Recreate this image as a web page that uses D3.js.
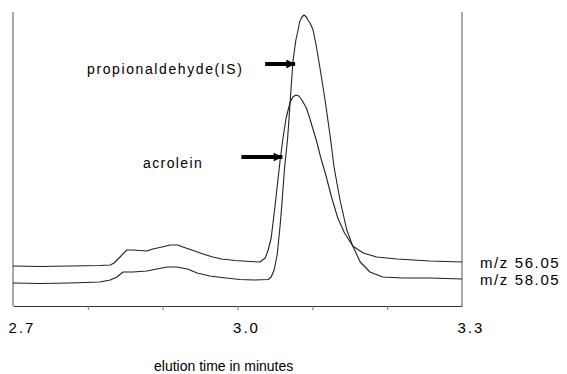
<!DOCTYPE html>
<html>
<head>
<meta charset="utf-8">
<script src="https://cdn.jsdelivr.net/npm/d3@7"></script>
<style>
  html, body { margin: 0; padding: 0; background: #fff; }
  svg { display: block; font-family: Arial, "Liberation Sans", sans-serif; }
</style>
</head>
<body>
<svg id="chart" width="567" height="374"></svg>
<script>
// elution time (min) and signal (arbitrary units)
const timeA = [2.700, 2.736, 2.776, 2.816, 2.830, 2.835, 2.843, 2.852, 2.860, 2.879, 2.887, 2.899, 2.910, 2.920, 2.927, 2.939, 2.954, 2.967, 2.979, 2.997, 3.017, 3.030, 3.037, 3.041, 3.045, 3.050, 3.054, 3.057, 3.061, 3.065, 3.070, 3.074, 3.078, 3.082, 3.086, 3.092, 3.096, 3.100, 3.106, 3.111, 3.118, 3.126, 3.134, 3.143, 3.154, 3.168, 3.186, 3.213, 3.257, 3.300];
const mz5605 = [40, 39.5, 40, 40.5, 41, 43, 49, 56, 56, 55, 57, 59, 61, 61, 59, 56, 52, 49, 47, 45.5, 44.5, 44, 48, 56, 68, 99, 126, 146, 169, 188, 203, 209, 211, 210, 206, 198, 189, 179, 164, 149, 131, 108, 88, 73, 60, 53, 49, 47, 45, 44];

const timeP = [2.700, 2.736, 2.776, 2.816, 2.830, 2.839, 2.847, 2.860, 2.879, 2.892, 2.906, 2.919, 2.933, 2.946, 2.963, 2.979, 3.003, 3.023, 3.041, 3.045, 3.049, 3.053, 3.057, 3.059, 3.063, 3.067, 3.071, 3.074, 3.078, 3.081, 3.083, 3.086, 3.089, 3.092, 3.094, 3.097, 3.101, 3.105, 3.110, 3.117, 3.124, 3.129, 3.137, 3.146, 3.154, 3.164, 3.177, 3.194, 3.221, 3.257, 3.300];
const mz5805 = [23, 22.5, 23, 24, 26, 29, 34, 34, 35, 37, 39, 39, 37, 33, 30, 28.5, 26.5, 26, 26.5, 29, 36, 51, 81, 99, 139, 168, 211, 244, 266, 276, 284, 289, 291, 289, 286, 283, 276, 261, 239, 206, 169, 139, 106, 76, 60, 44, 34, 29, 28, 28, 27];

const tickLabels = ["2.7", "3.0", "3.3"];
const minorTicks = [2.8, 2.9, 3.0, 3.1, 3.2];
const seriesNames = ["m/z 56.05", "m/z 58.05"];
// annotation: label, arrow tip (time, signal)
const notes = [
  { label: "propionaldehyde(IS)", t: 3.077, v: 242 },
  { label: "acrolein", t: 3.060, v: 149 }
];

const svg = d3.select("#chart");

const x = d3.scaleLinear().domain([2.7, 3.3]).range([13, 462]);
const y = d3.scaleLinear().domain([0, 300]).range([306, 6]);

// frame: left and right sides, no top
svg.append("line")
  .attr("x1", x(2.7)).attr("x2", x(2.7)).attr("y1", 12).attr("y2", y(0))
  .attr("stroke", "#555").attr("stroke-width", 1);
svg.append("line")
  .attr("x1", x(3.3)).attr("x2", x(3.3)).attr("y1", 12).attr("y2", y(0))
  .attr("stroke", "#555").attr("stroke-width", 1);

// x axis
const xAxis = d3.axisBottom(x)
  .tickValues(minorTicks)
  .tickFormat("")
  .tickSize(4)
  .tickSizeOuter(0);
const axisG = svg.append("g")
  .attr("transform", `translate(0, ${y(0)})`)
  .call(xAxis);
axisG.select("path.domain").attr("stroke", "#333").attr("stroke-width", 1.2);
axisG.selectAll(".tick line").attr("stroke", "#777");

svg.append("g").selectAll("text")
  .data(tickLabels)
  .join("text")
  .attr("x", d => x(+d) + 9)
  .attr("y", 333)
  .attr("text-anchor", "middle")
  .attr("font-size", 15)
  .attr("letter-spacing", 2)
  .attr("fill", "#000")
  .text(d => d);

svg.append("text")
  .attr("x", 154)
  .attr("y", 371)
  .attr("font-size", 14)
  .attr("fill", "#000")
  .text("elution time in minutes");

// traces
const line = d3.line()
  .x(d => x(d[0]))
  .y(d => y(d[1]));

const traces = [
  d3.zip(timeA, mz5605),
  d3.zip(timeP, mz5805)
];

svg.append("g").selectAll("path")
  .data(traces)
  .join("path")
  .attr("d", line)
  .attr("fill", "none")
  .attr("stroke", "#222")
  .attr("stroke-width", 1.1)
  .attr("stroke-linejoin", "round");

// series labels at right end
svg.append("g").selectAll("text")
  .data(seriesNames)
  .join("text")
  .attr("x", 480)
  .attr("y", (d, i) => y(traces[i][traces[i].length - 1][1]) + 6)
  .attr("font-size", 15)
  .attr("letter-spacing", 1.6)
  .attr("fill", "#000")
  .text(d => d);

// arrows
svg.append("defs").append("marker")
  .attr("id", "ah")
  .attr("viewBox", "0 0 10 10")
  .attr("refX", 10)
  .attr("refY", 5)
  .attr("markerWidth", 2.6)
  .attr("markerHeight", 2.2)
  .attr("markerUnits", "strokeWidth")
  .attr("orient", "auto")
  .append("path")
  .attr("d", "M0,0 L10,5 L0,10 z")
  .attr("fill", "#000");

const noteG = svg.append("g").selectAll("g")
  .data(notes)
  .join("g");

noteG.append("line")
  .attr("x1", (d, i) => x(d.t) - (i === 0 ? 30 : 41))
  .attr("x2", d => x(d.t))
  .attr("y1", d => y(d.v))
  .attr("y2", d => y(d.v))
  .attr("stroke", "#000")
  .attr("stroke-width", 4)
  .attr("marker-end", "url(#ah)");

noteG.append("text")
  .attr("x", (d, i) => i === 0 ? 87 : 143)
  .attr("y", (d, i) => y(d.v) + (i === 0 ? 10 : 11))
  .attr("font-size", 14)
  .attr("letter-spacing", (d, i) => i === 0 ? 1.6 : 1.4)
  .attr("fill", "#000")
  .text(d => d.label);
</script>
</body>
</html>
